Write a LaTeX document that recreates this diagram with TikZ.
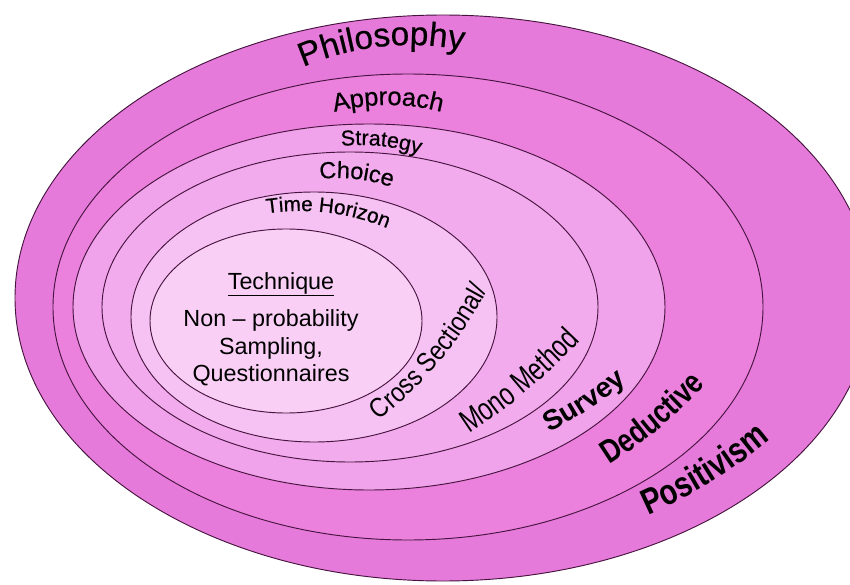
\documentclass[tikz,border=0pt]{standalone}
\usepackage{fontspec}
\setmainfont{Liberation Sans}
\newfontfamily\archfont[FakeBold=0.6]{Liberation Sans}
\newfontfamily\narrowfont[FakeStretch=0.74]{Liberation Sans}
\newfontfamily\semifont[FakeStretch=0.86]{Liberation Sans}
\newfontfamily\tallfont[FakeStretch=0.8]{Liberation Sans}
\usetikzlibrary{decorations.text}

\definecolor{ringline}{RGB}{70,20,62}
\definecolor{philo}{RGB}{230,122,218}
\definecolor{appro}{RGB}{235,128,221}
\definecolor{strat}{RGB}{240,162,235}
\definecolor{choic}{RGB}{242,172,238}
\definecolor{horiz}{RGB}{246,193,243}
\definecolor{techn}{RGB}{249,207,245}

\tikzstyle{ring}=[draw=ringline,
                  line width=0.7pt]
\tikzstyle{arclabel}=[decorate,
                      decoration={text along path,
                                  text align=center,
                                  text={#1}}]
\tikzstyle{inner}=[inner sep=0pt,
                   align=center,
                   font=\fontsize{17.5}{20.6}\selectfont]

\begin{document}
\begin{tikzpicture}[x=0.75pt,y=-0.75pt]
\useasboundingbox (0,0) rectangle (850,585);

% rings, outer to inner
\draw[ring,fill=philo] (443,298) ellipse [x radius=428, y radius=283];
\draw[ring,fill=appro] (408,307) ellipse [x radius=355, y radius=233];
\draw[ring,fill=strat] (369,307) ellipse [x radius=296, y radius=183];
\draw[ring,fill=choic] (350,307) ellipse [x radius=248, y radius=155];
\draw[ring,fill=horiz] (314,317) ellipse [x radius=183, y radius=125];
\draw[ring,fill=techn] (286,321) ellipse [x radius=136, y radius=92];

% arched labels over the top of each ring
\path[arclabel={|\archfont\fontsize{25}{30}\selectfont|Philosophy}]
  (410,315) ++(240:270) arc[start angle=240, end angle=288, radius=270];
\path[arclabel={|\archfont\fontsize{19}{23}\selectfont|Approach}]
  (388,315) ++(248:210) arc[start angle=248, end angle=292, radius=210];
\path[arclabel={|\archfont\fontsize{16}{19}\selectfont|Strategy}]
  (360,345) ++(256:200) arc[start angle=256, end angle=296, radius=200];
\path[arclabel={|\archfont\fontsize{17.5}{21}\selectfont|Choice}]
  (338,338) ++(256:160) arc[start angle=256, end angle=297, radius=160];
\path[arclabel={|\archfont\fontsize{15.5}{19}\selectfont|Time Horizon}]
  (300,441) ++(256:230) arc[start angle=256, end angle=298, radius=230];

% labels rising on the lower right of each ring
\path[arclabel={|\semifont\fontsize{20.5}{24}\selectfont|Cross Sectional/}]
  (134,104) ++(57:400) arc[start angle=57, end angle=23, radius=400];
\path[arclabel={|\narrowfont\fontsize{24}{28}\selectfont|Mono Method}]
  (142,-69) ++(61:600) arc[start angle=61, end angle=39, radius=600];
\path[arclabel={|\bfseries\fontsize{21}{25}\selectfont|Survey}]
  (317,-10) ++(66:500) arc[start angle=66, end angle=48, radius=500];
\path[arclabel={|\tallfont\bfseries\fontsize{24.5}{29}\selectfont|Deductive}]
  (371,83) ++(62:450) arc[start angle=62, end angle=38, radius=450];
\path[arclabel={|\tallfont\bfseries\fontsize{27}{32}\selectfont|Positivism}]
  (447,58) ++(70:500) arc[start angle=70, end angle=46, radius=500];

% innermost ring
\node[inner,anchor=base] (tech) at (281,289) {\underline{Technique}};
\node[inner] (techtxt) at (271,348) {Non – probability\\Sampling,\\Questionnaires};

\end{tikzpicture}
\end{document}
